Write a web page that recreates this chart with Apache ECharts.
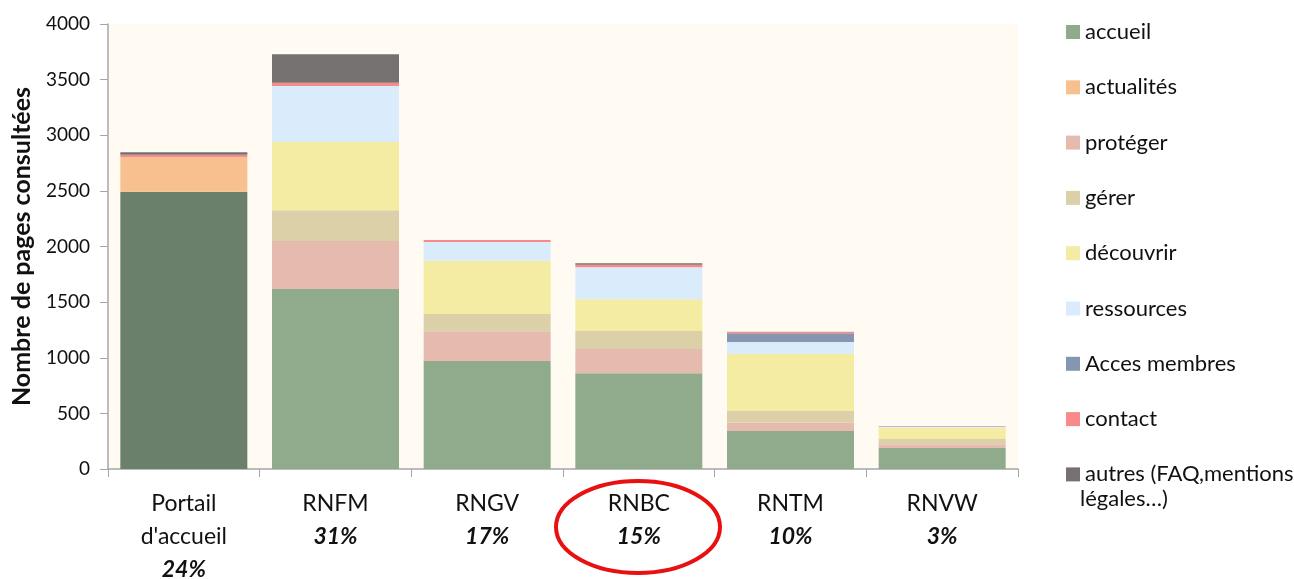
<!DOCTYPE html>
<html>
<head>
<meta charset="utf-8">
<script src="https://cdn.jsdelivr.net/npm/echarts@6/dist/echarts.min.js"></script>
<style>
  html, body { margin: 0; padding: 0; background: #fff; }
  #main { width: 1294px; height: 579px; }
</style>
</head>
<body>
<div id="main"></div>
<script>
var sites = ['Portail\nd\'accueil', 'RNFM', 'RNGV', 'RNBC', 'RNTM', 'RNVW'];
var shares = ['24%', '31%', '17%', '15%', '10%', '3%'];
var yTicks = { min: 0, max: 4000, step: 500 };

var accueil    = [2493, 1618, 971, 860, 342, 189];
var actualites = [309, 0, 0, 0, 0, 0];
var proteger   = [0, 431, 267, 219, 75, 33];
var gerer      = [0, 276, 156, 162, 105, 48];
var decouvrir  = [0, 614, 479, 285, 515, 102];
var ressources = [0, 503, 168, 288, 105, 8];
var acces      = [0, 0, 0, 0, 78, 5];
var contact    = [23, 31, 18, 23, 14, 2];
var autres     = [22, 254, 0, 13, 0, 0];

var names = ['accueil', 'actualités', 'protéger', 'gérer', 'découvrir', 'ressources',
             'Acces membres', 'contact', 'autres (FAQ,mentions légales…)'];
var values = [accueil, actualites, proteger, gerer, decouvrir, ressources, acces, contact, autres];
var colors = ['#8fab8b', '#f9c08f', '#e5bbb0', '#dcd0a9', '#f4eca3', '#daebfc',
              '#8496b0', '#f88a8a', '#767171'];
var portailColor = '#6b806a';

var myChart = echarts.init(document.getElementById('main'));

var series = values.map(function (arr, i) {
    return {
        name: names[i],
        type: 'bar',
        stack: 'total',
        barWidth: 127,
        itemStyle: { color: colors[i] },
        data: arr.map(function (v, j) {
            if (i == 0 && j == 0) return { value: v, itemStyle: { color: portailColor } };
            return v;
        })
    };
});

var labels = sites.map(function (s, i) { return s + '\n{p|' + shares[i] + '}'; });

var option = {
    animation: false,
    textStyle: { fontFamily: 'Lato' },
    grid: {
        left: 108, right: 276, top: 24, bottom: 110,
        containLabel: false, outerBoundsMode: 'none',
        backgroundColor: '#fffbf2', show: true, borderWidth: 0
    },
    legend: {
        orient: 'vertical',
        left: 1061,
        top: 15,
        itemWidth: 14,
        itemHeight: 14,
        itemGap: 31.3,
        icon: 'rect',
        data: names,
        // the long name wraps, second line is drawn below as graphic text
        formatter: function (n) {
            return n == names[8] ? 'autres (FAQ,mentions' : n;
        },
        textStyle: { fontSize: 22, color: '#111', lineHeight: 24, fontFamily: 'Lato' }
    },
    xAxis: {
        type: 'category',
        data: labels,
        axisLine: { lineStyle: { color: '#a6a6a6', width: 1.5 } },
        axisTick: { show: true, length: 8, lineStyle: { color: '#a6a6a6' } },
        axisLabel: {
            interval: 0,
            color: '#111',
            fontSize: 23,
            lineHeight: 33,
            margin: 18,
            rich: {
                p: { fontSize: 23, fontWeight: 'bold', fontStyle: 'italic', lineHeight: 33, color: '#111' }
            }
        }
    },
    yAxis: {
        type: 'value',
        min: yTicks.min,
        max: yTicks.max,
        interval: yTicks.step,
        name: 'Nombre de pages consultées',
        nameLocation: 'middle',
        nameGap: 74,
        nameTextStyle: { fontSize: 25, fontWeight: 'bold', color: '#111' },
        axisLine: { show: true, lineStyle: { color: '#a6a6a6', width: 1.5 } },
        axisTick: { show: true, length: 8, lineStyle: { color: '#a6a6a6' } },
        axisLabel: {
            fontSize: 19, color: '#111', margin: 18,
            formatter: function (v) { return String(v); }
        },
        splitLine: { show: false }
    },
    graphic: [{
        type: 'ellipse',
        shape: { cx: 638, cy: 527, rx: 82, ry: 46 },
        style: { fill: 'none', stroke: '#e81010', lineWidth: 4 },
        z: 100
    }, {
        type: 'text',
        left: 1080,
        top: 488,
        style: { text: 'légales…)', fontSize: 22, fontFamily: 'Lato', fill: '#111' }
    }],
    series: series
};

myChart.setOption(option);
</script>
</body>
</html>
